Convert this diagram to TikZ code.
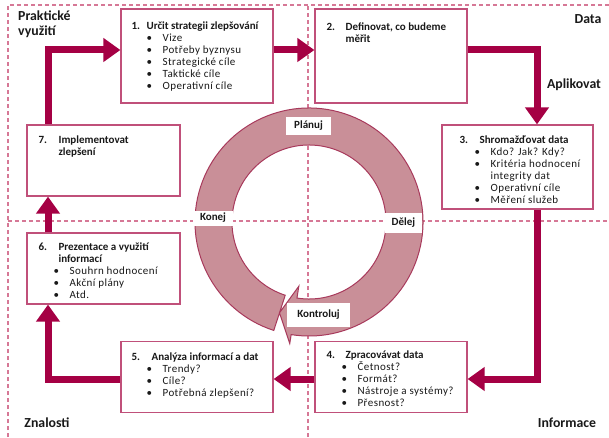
\documentclass[tikz,border=0pt]{standalone}
\usepackage{fontspec}
\setmainfont{Carlito}
\usepackage{xcolor}
\usepackage{tikz}
\usetikzlibrary{positioning,arrows.meta,calc}

\definecolor{crimson}{RGB}{165,0,68}
\definecolor{boxline}{RGB}{192,80,122}
\definecolor{gridline}{RGB}{214,120,150}
\definecolor{ringfill}{RGB}{201,143,152}
\definecolor{ringline}{RGB}{168,58,92}
\definecolor{txt}{RGB}{25,25,25}

\newcommand{\hd}[3][19pt]{\textbf{\makebox[#1][l]{#2}#3}}
\newcommand{\itm}[1]{\hspace*{15pt}\makebox[16pt][l]{\textbullet}{\addfontfeatures{LetterSpace=4}#1}}
\newcommand{\itmcont}[1]{\hspace*{31pt}{\addfontfeatures{LetterSpace=4}#1}}

\tikzset{
  stepbox/.style={draw=boxline, line width=1.2pt, fill=white, inner sep=0pt},
  steptext/.style={anchor=north west, align=left, inner sep=0pt, text=txt,
    font=\fontsize{11}{12}\selectfont},
  flow/.style={draw=crimson, line width=7pt, -{Triangle[length=17pt,width=23pt]}},
  grid/.style={gridline, line width=1.3pt, dash pattern=on 4pt off 3pt},
  corner/.style={text=txt, font=\fontsize{13.8}{15}\selectfont\bfseries, inner sep=0pt},
  phase/.style={fill=white, text=txt, font=\fontsize{11}{12}\selectfont\bfseries, inner sep=0pt}
}

\begin{document}
\begin{tikzpicture}[x=1pt, y=1pt]
\useasboundingbox (0,0) rectangle (609,437);

% Frame and quadrants
\draw[grid] (8,0) -- (8,432) -- (609,432);
\draw[grid] (8,216) -- (609,216);
\draw[grid] (308,0) -- (308,432);

% PDCA ring
\begin{scope}[shift={(309,215)}]
\filldraw[fill=ringfill, draw=ringline, line width=1pt]
  (612:114pt) arc[start angle=612, end angle=261, radius=114pt]
  -- (261:123pt) -- (252:95.5pt) -- (261:65pt) -- (261:77pt)
  arc[start angle=261, end angle=612, radius=77pt] -- cycle;
\end{scope}
\node[phase, minimum width=45pt, minimum height=18pt] (plan) at (308.5,311) {Plánuj};
\node[phase, minimum width=40pt, minimum height=15pt] (act) at (213,219) {Konej};
\node[phase, minimum width=37pt, minimum height=20pt] (do) at (403.5,214) {Dělej};
\node[phase, minimum width=63pt, minimum height=24pt] (check) at (318.5,122) {Kontroluj};

% Steps
\node[stepbox, minimum width=152pt, minimum height=94pt] (b1) at (197,381) {};
\node[stepbox, minimum width=152pt, minimum height=94pt] (b2) at (391,381) {};
\node[stepbox, minimum width=151pt, minimum height=84pt] (b3) at (517.5,270) {};
\node[stepbox, minimum width=152pt, minimum height=71pt] (b4) at (391,60) {};
\node[stepbox, minimum width=152pt, minimum height=71pt] (b5) at (197,60) {};
\node[stepbox, minimum width=153pt, minimum height=71pt] (b6) at (103.5,168.5) {};
\node[stepbox, minimum width=153pt, minimum height=71pt] (b7) at (103.5,276.5) {};

\node[steptext] (t1) at ([xshift=11pt,yshift=-13pt]b1.north west)
  {\hd[15pt]{1.}{Určit strategii zlepšování}\\ \itm{Vize}\\ \itm{Potřeby byznysu}\\
   \itm{Strategické cíle}\\ \itm{Taktické cíle}\\ \itm{Operativní cíle}};
\node[steptext] (t2) at ([xshift=12pt,yshift=-14pt]b2.north west)
  {\hd{2.}{Definovat, co budeme}\\ \hspace*{19pt}\textbf{měřit}};
\node[steptext] (t3) at ([xshift=18pt,yshift=-11pt]b3.north west)
  {\hd[20pt]{3.}{Shromažďovat data}\\ \itm{Kdo? Jak? Kdy?}\\ \itm{Kritéria hodnocení}\\
   \itmcont{integrity dat}\\ \itm{Operativní cíle}\\ \itm{Měření služeb}};
\node[steptext] (t4) at ([xshift=12pt,yshift=-10pt]b4.north west)
  {\hd{4.}{Zpracovávat data}\\ \itm{Četnost?}\\ \itm{Formát?}\\
   \itm{Nástroje a systémy?}\\ \itm{Přesnost?}};
\node[steptext] (t5) at ([xshift=11pt,yshift=-12pt]b5.north west)
  {\hd[20pt]{5.}{Analýza informací a dat}\\ \itm{Trendy?}\\ \itm{Cíle?}\\
   \itm{Potřebná zlepšení?}};
\node[steptext] (t6) at ([xshift=12pt,yshift=-10pt]b6.north west)
  {\hd[20pt]{6.}{Prezentace a využití}\\ \hspace*{20pt}\textbf{informací}\\
   \itm{Souhrn hodnocení}\\ \itm{Akční plány}\\ \itm{Atd.}};
\node[steptext] (t7) at ([xshift=12pt,yshift=-11pt]b7.north west)
  {\hd[20pt]{7.}{Implementovat}\\ \hspace*{20pt}\textbf{zlepšení}};

% Flow between steps
\draw[flow] ([xshift=-55.5pt]b7.north) |- ([yshift=6pt]b1.west);
\draw[flow] ([yshift=6pt]b1.east) -- ([yshift=6pt]b2.west);
\draw[flow] ([yshift=6pt]b2.east) -| ([xshift=19.5pt]b3.north);
\draw[flow] ([xshift=19.5pt]b3.south) |- ([yshift=-2pt]b4.east);
\draw[flow] ([yshift=-2pt]b4.west) -- ([yshift=-2pt]b5.east);
\draw[flow] ([yshift=-2pt]b5.west) -| ([xshift=-55.5pt]b6.south);
\draw[flow] ([xshift=-55.5pt]b6.north) -- ([xshift=-55.5pt]b7.south);

% Quadrant labels
\node[corner, anchor=north west, align=left] (lblpract) at (18,426) {Praktické\\využití};
\node[corner] (lbldata) at (588,418) {Data};
\node[corner] (lblapl) at (574,352) {Aplikovat};
\node[corner] (lblzn) at (47,14) {Znalosti};
\node[corner] (lblinf) at (567,14) {Informace};
\end{tikzpicture}
\end{document}
